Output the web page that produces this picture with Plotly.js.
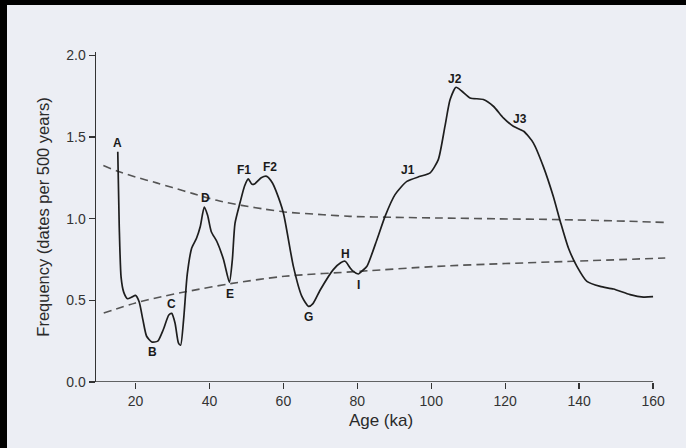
<!DOCTYPE html>
<html>
<head>
<meta charset="utf-8">
<script src="https://cdn.plot.ly/plotly-3.0.1.min.js"></script>
<style>
  html, body { margin: 0; padding: 0; background: #000; width: 686px; height: 448px; overflow: hidden; }
  #chart { position: absolute; left: 7px; top: 5px; width: 679px; height: 443px; }
</style>
</head>
<body>
<div id="chart"></div>
<script>
// Frequency curve (Age in ka, frequency in dates per 500 years)
const ageKa = [15.2,15.6,16.1,16.8,17.8,19.0,20.0,21.0,22.0,23.0,24.4,26.0,27.5,29.0,29.8,30.7,31.6,32.2,33.0,34.0,35.2,36.5,37.5,38.6,39.5,40.5,42.0,43.8,45.4,46.2,46.9,48.3,49.5,50.5,51.5,52.3,54.0,55.5,57.0,58.0,60.0,62.7,65.0,66.8,68.0,70.0,73.5,75.5,76.7,78.0,78.9,80.3,81.3,82.6,85.3,87.5,90.2,93.4,97.0,99.7,101.9,103.7,105.1,106.7,108.3,110.5,114.1,116.8,119.5,122.2,125.0,127.6,130.3,133.0,134.9,137.1,139.4,142.1,145.7,149.3,153.8,157.4,160.0];
const freq  = [1.41,0.95,0.64,0.55,0.51,0.52,0.53,0.49,0.38,0.28,0.245,0.25,0.32,0.41,0.42,0.36,0.24,0.225,0.38,0.66,0.82,0.88,0.95,1.07,1.02,0.92,0.86,0.75,0.61,0.75,0.97,1.10,1.20,1.243,1.21,1.214,1.25,1.259,1.22,1.17,1.035,0.708,0.524,0.463,0.48,0.565,0.688,0.73,0.739,0.70,0.677,0.661,0.68,0.708,0.871,1.014,1.147,1.228,1.259,1.28,1.361,1.565,1.729,1.804,1.78,1.739,1.729,1.688,1.617,1.565,1.535,1.464,1.32,1.137,0.983,0.82,0.708,0.616,0.585,0.569,0.535,0.52,0.522];

// Upper and lower dashed envelope curves
const upperAge  = [11.3,15.2,20.0,25.7,30.0,35.6,42.0,48.7,55.0,60.3,70.8,78.0,90.0,101.7,118.0,134.9,150.0,163.3];
const upperFreq = [1.325,1.29,1.255,1.219,1.19,1.153,1.112,1.081,1.058,1.041,1.024,1.014,1.008,1.004,0.999,0.994,0.986,0.977];
const lowerAge  = [11.4,20.0,27.0,34.2,45.7,60.3,80.4,101.7,120.0,138.4,163.3];
const lowerFreq = [0.422,0.484,0.522,0.555,0.602,0.647,0.677,0.708,0.725,0.739,0.759];

// Peak / trough labels
const labelText = ['A','B','C','D','E','F1','F2','G','H','I','J1','J2','J3'];
const labelAge  = [15.2,24.5,29.6,38.8,45.6,49.4,56.4,66.8,76.7,80.3,93.8,106.5,124.0];
const labelFreq = [1.46,0.184,0.478,1.127,0.539,1.30,1.314,0.398,0.784,0.596,1.30,1.857,1.612];

// Axis ticks
const xTicks = [20,40,60,80,100,120,140,160];
const yTicks = [0.0,0.5,1.0,1.5,2.0];

const fontFam = '"Liberation Sans", Arial, Helvetica, sans-serif';
const bg = '#eceef4';

const traces = [
  { x: upperAge, y: upperFreq, mode: 'lines', type: 'scatter',
    line: { color: '#555', width: 1.6, dash: '8px,5px', shape: 'spline', smoothing: 0.8 }, hoverinfo: 'skip' },
  { x: lowerAge, y: lowerFreq, mode: 'lines', type: 'scatter',
    line: { color: '#555', width: 1.6, dash: '8px,5px', shape: 'spline', smoothing: 0.8 }, hoverinfo: 'skip' },
  { x: ageKa, y: freq, mode: 'lines', type: 'scatter',
    line: { color: '#1e1e1e', width: 1.7, shape: 'spline', smoothing: 0.6 } }
];

const annotations = labelText.map((t, i) => ({
  x: labelAge[i], y: labelFreq[i], xref: 'x', yref: 'y', text: t, showarrow: false,
  font: { family: fontFam, size: 12, color: '#1a1a1a', weight: 'bold' },
  xanchor: 'center', yanchor: 'middle'
}));

const layout = {
  width: 679, height: 443,
  margin: { l: 89, r: 20, t: 47, b: 66 },
  paper_bgcolor: bg, plot_bgcolor: bg,
  showlegend: false,
  font: { family: fontFam, color: '#333' },
  xaxis: {
    range: [9.31, 163.5], tickvals: xTicks, ticktext: xTicks.map(String),
    ticks: 'outside', ticklen: 6, tickwidth: 1.3, tickcolor: '#333',
    showline: false, showgrid: false, zeroline: false,
    tickfont: { family: fontFam, size: 14, color: '#333' },
    title: { text: 'Age (ka)', font: { family: fontFam, size: 17, color: '#2a2a2a' }, standoff: 6 }
  },
  yaxis: {
    range: [0, 2.02], tickvals: yTicks, ticktext: yTicks.map(v => v.toFixed(1)),
    ticks: 'outside', ticklen: 6, tickwidth: 1.3, tickcolor: '#333',
    showline: true, linecolor: '#333', linewidth: 1.5,
    showgrid: false, zeroline: false,
    tickfont: { family: fontFam, size: 14, color: '#333' },
    title: { text: 'Frequency (dates per 500 years)', font: { family: fontFam, size: 16.5, color: '#2a2a2a' }, standoff: 12 }
  },
  shapes: [
    { type: 'line', xref: 'x', yref: 'y', x0: 9.31, x1: xTicks[xTicks.length - 1], y0: 0, y1: 0,
      line: { color: '#333', width: 1.6 } }
  ],
  annotations: annotations
};

Plotly.newPlot('chart', traces, layout, { staticPlot: true, displayModeBar: false });
</script>
</body>
</html>
